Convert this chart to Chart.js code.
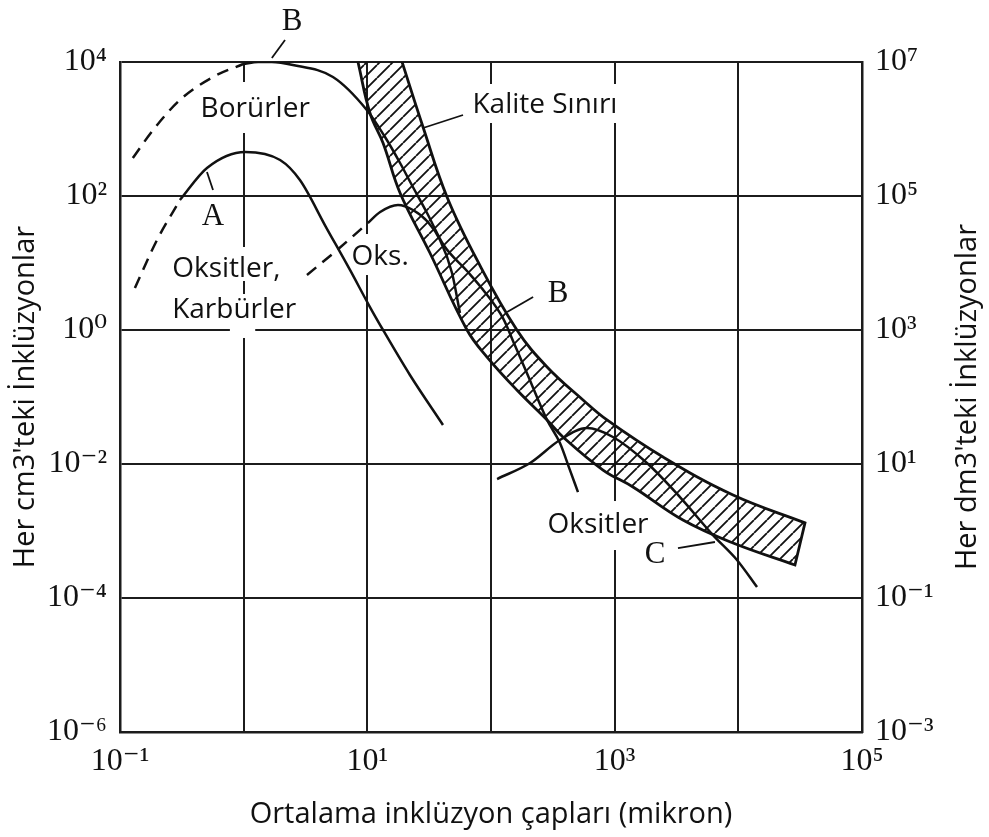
<!DOCTYPE html>
<html lang="tr">
<head>
  <meta charset="UTF-8" />
  <title>İnklüzyon dağılımı</title>
  <script src="https://cdn.jsdelivr.net/npm/chart.js"></script>
  <style>
    body { margin:0; background:#fff; }
    canvas { display:block; }
  </style>
</head>
<body>
  <canvas id="chart" width="989" height="837"></canvas>

  <script>
    // x = ortalama inklüzyon çapı (mikron), y = her cm3'teki inklüzyon sayısı
    const borurDashX = [0.127, 0.185, 0.305, 0.565, 0.99];
    const borurDashY = [369, 966, 2710, 5970, 9330];
    const borurX = [0.99, 1.31, 1.69, 2.5, 5.27, 9.9, 13.9, 18.4, 22.5, 30.4, 41.5, 64, 89, 125, 156, 195, 284, 361, 435, 505];
    const borurY = [9330, 10000, 10000, 9020, 5970, 1920, 760, 311, 155, 55.7, 18.4, 7.6, 3.7, 1.5, 0.59, 0.228, 0.0454, 0.0206, 0.0081, 0.0038];

    const oksKarbDashX = [0.132, 0.199, 0.305];
    const oksKarbDashY = [4.24, 22, 87];
    const oksKarbX = [0.305, 0.505, 1.03, 1.97, 2.85, 4.63, 7.24, 10.5, 13.4, 22.1, 40.9];
    const oksKarbY = [87, 262, 454, 344, 173, 34.4, 7.87, 2.2, 1.0, 0.213, 0.0382];

    const oksDashX = [3.25, 5.69, 10.1];
    const oksDashY = [6.62, 15.6, 39.5];
    const oksX = [10.1, 12.7, 17.7, 23.4, 30.9, 38.7, 48.4, 56.1];
    const oksY = [39.5, 57.7, 73.4, 61.8, 40.9, 22, 7.1, 1.79];

    const oksitlerX = [112, 207, 361, 597, 968, 1824, 3373, 6237, 9750, 14160];
    const oksitlerY = [0.00597, 0.01035, 0.0228, 0.0344, 0.0253, 0.01035, 0.00321, 0.00087, 0.00037, 0.000146];

    // Kalite sınırı bandı: sol kenar yukarıdan aşağı, sonra sağ kenar aşağıdan yukarı
    const bandX = [7.8, 8.4, 10.5, 13.4, 18.4, 32.1, 64, 92.9, 162, 284, 382, 805, 1406, 3565, 9060, 28700, 28700,
                   34600, 34600, 9060, 2460, 867, 555, 284, 162, 77.1, 44.1, 28.2, 19.1, 17.4];
    const bandY = [17900, 10000, 1733, 618, 111, 14.1, 1.0, 0.395, 0.127, 0.0454, 0.0253, 0.00813, 0.00454, 0.00146, 0.000662, 0.000311, 0.000311,
                   0.00132, 0.00132, 0.00344, 0.0127, 0.0454, 0.0902, 0.281, 1.0, 11.1, 96.6, 1072, 10000, 17900];

    const xTickValues = [0.1, 1, 10, 100, 1000, 10000, 100000];
    const xTickLabels = ['10⁻¹', '', '10¹', '', '10³', '', '10⁵'];
    const yTickValues = [1e-6, 1e-4, 1e-2, 1, 1e2, 1e4];
    const yTickLabels = ['10⁻⁶', '10⁻⁴', '10⁻²', '10⁰', '10²', '10⁴'];
    const y2TickValues = [1e-3, 1e-1, 1e1, 1e3, 1e5, 1e7];
    const y2TickLabels = ['10⁻³', '10⁻¹', '10¹', '10³', '10⁵', '10⁷'];

    const ink = '#111';
    const sans = '28px "Open Sans"';
    const serif = '31px "Liberation Serif"';

    const labels = [
      { text: 'Borürler', x: 1.24, y: 1510, font: sans, align: 'center', pad: [15, 16] },
      { text: 'Kalite Sınırı', x: 273, y: 1733, font: sans, align: 'center', pad: [9, 10] },
      { text: 'Oks.', x: 12.7, y: 9.33, font: sans, align: 'center', pad: [11, 10] },
      { text: 'Oksitler,', x: 0.264, y: 6.18, font: sans, align: 'left', pad: [10, 4] },
      { text: 'Karbürler', x: 0.264, y: 1.51, font: sans, align: 'left', pad: [4, 8] },
      { text: 'Oksitler', x: 733, y: 0.000933, font: sans, align: 'center', pad: [12, 17] },
      { text: 'A', x: 0.565, y: 36.9, font: serif, align: 'center' },
      { text: 'B', x: 2.46, y: 30000, font: serif, align: 'center' },
      { text: 'B', x: 348, y: 2.62, font: serif, align: 'center' },
      { text: 'C', x: 2118, y: 0.000333, font: serif, align: 'center' }
    ];
    const gaps = [[0.774, 1.24, 1.51, 0.76]];
    const leaders = [
      [2.16, 21300, 1.69, 11500],
      [0.505, 228, 0.565, 123],
      [219, 3.11, 135, 1.86],
      [59.4, 1618, 28.2, 1035],
      [3251, 0.000557, 6471, 0.000685]
    ];

    const pts = (xs, ys) => xs.map((x, i) => ({ x, y: ys[i] }));

    function hatch() {
      const n = 13;
      const c = document.createElement('canvas');
      c.width = n; c.height = n;
      const g = c.getContext('2d');
      g.strokeStyle = ink; g.lineWidth = 1.8;
      g.beginPath();
      for (const o of [-n, 0, n]) { g.moveTo(o, n); g.lineTo(o + n, 0); }
      g.stroke();
      return g.createPattern(c, 'repeat');
    }

    function curve(data, dashed) {
      return {
        data, showLine: true, pointRadius: 0, borderColor: ink, borderWidth: 2.5,
        borderDash: dashed ? [12, 8] : [], cubicInterpolationMode: 'monotone', fill: false
      };
    }

    const annotate = {
      id: 'annotate',
      beforeDatasetsDraw(chart) {
        const { ctx, scales: { x, y } } = chart;
        ctx.save();
        ctx.fillStyle = '#fff';
        gaps.forEach(g => {
          const x1 = x.getPixelForValue(g[0]), x2 = x.getPixelForValue(g[1]);
          const y1 = y.getPixelForValue(g[2]), y2 = y.getPixelForValue(g[3]);
          ctx.fillRect(x1, y1, x2 - x1, y2 - y1);
        });
        labels.forEach(l => {
          ctx.font = l.font;
          const px = x.getPixelForValue(l.x), py = y.getPixelForValue(l.y);
          const w = ctx.measureText(l.text).width;
          const left = l.align === 'left' ? px : px - w / 2;
          if (l.pad) {
            ctx.fillStyle = '#fff';
            ctx.fillRect(left - 5, py - 20 - l.pad[0], w + 10, 20 + l.pad[0] + l.pad[1]);
          }
          ctx.fillStyle = ink;
          ctx.textAlign = l.align;
          ctx.textBaseline = 'alphabetic';
          ctx.fillText(l.text, px, py);
        });
        ctx.restore();
      },
      afterDatasetsDraw(chart) {
        const { ctx, scales: { x, y } } = chart;
        ctx.save();
        ctx.strokeStyle = ink; ctx.lineWidth = 1.8;
        leaders.forEach(s => {
          ctx.beginPath();
          ctx.moveTo(x.getPixelForValue(s[0]), y.getPixelForValue(s[1]));
          ctx.lineTo(x.getPixelForValue(s[2]), y.getPixelForValue(s[3]));
          ctx.stroke();
        });
        // sağ eksen başlığı (aşağıdan yukarı okunur)
        const a = chart.chartArea;
        ctx.translate(968, (a.top + a.bottom) / 2);
        ctx.rotate(-Math.PI / 2);
        ctx.font = '29px "Open Sans"'; ctx.fillStyle = ink;
        ctx.textAlign = 'center'; ctx.textBaseline = 'middle';
        ctx.fillText("Her dm3'teki İnklüzyonlar", 0, 0);
        ctx.restore();
      }
    };

    const gridStyle = { color: '#1c1c1c', lineWidth: 2, drawTicks: false };
    const borderStyle = { color: '#1c1c1c', width: 2.5 };
    const tickFont = { family: '"Liberation Serif", "DejaVu Serif", serif', size: 32 };
    const titleFont = { family: 'Open Sans', size: 29 };

    new Chart(document.getElementById('chart'), {
      type: 'scatter',
      data: {
        datasets: [
          curve(pts(borurDashX, borurDashY), true),
          curve(pts(borurX, borurY), false),
          curve(pts(oksKarbDashX, oksKarbDashY), true),
          curve(pts(oksKarbX, oksKarbY), false),
          curve(pts(oksDashX, oksDashY), true),
          curve(pts(oksX, oksY), false),
          curve(pts(oksitlerX, oksitlerY), false),
          {
            data: pts(bandX, bandY), showLine: true, pointRadius: 0,
            borderColor: ink, borderWidth: 2.8, tension: 0.4,
            backgroundColor: hatch(), fill: 'shape'
          }
        ]
      },
      options: {
        responsive: false,
        devicePixelRatio: 1,
        animation: false,
        layout: { padding: { top: 62, left: 0, right: 0, bottom: 0 } },
        plugins: { legend: { display: false }, tooltip: { enabled: false } },
        scales: {
          x: {
            type: 'logarithmic', position: 'bottom', min: 0.1, max: 1e5,
            afterBuildTicks: s => { s.ticks = xTickValues.map(v => ({ value: v })); },
            afterFit: s => { s.height = 105; },
            grid: gridStyle, border: borderStyle,
            ticks: { autoSkip: false, maxRotation: 0, padding: 10, font: tickFont, color: ink,
                     callback: (v, i) => xTickLabels[i] },
            title: { display: true, text: 'Ortalama inklüzyon çapları (mikron)', color: ink,
                     font: titleFont, padding: { top: 0, bottom: 5 } }
          },
          y: {
            type: 'logarithmic', position: 'left', min: 1e-6, max: 1e4,
            afterBuildTicks: s => { s.ticks = yTickValues.map(v => ({ value: v })); },
            afterFit: s => { s.width = 120; },
            grid: gridStyle, border: borderStyle,
            ticks: { autoSkip: false, padding: 13, font: tickFont, color: ink,
                     callback: (v, i) => yTickLabels[i] },
            title: { display: true, text: "Her cm3'teki İnklüzyonlar", color: ink,
                     font: titleFont, padding: { top: 8, bottom: 0 } }
          },
          y2: {
            type: 'logarithmic', position: 'right', min: 1e-3, max: 1e7,
            afterBuildTicks: s => { s.ticks = y2TickValues.map(v => ({ value: v })); },
            afterFit: s => { s.width = 127; },
            grid: { drawOnChartArea: false, drawTicks: false }, border: borderStyle,
            ticks: { autoSkip: false, padding: 13, font: tickFont, color: ink,
                     callback: (v, i) => y2TickLabels[i] }
          }
        }
      },
      plugins: [annotate]
    });
  </script>
</body>
</html>
